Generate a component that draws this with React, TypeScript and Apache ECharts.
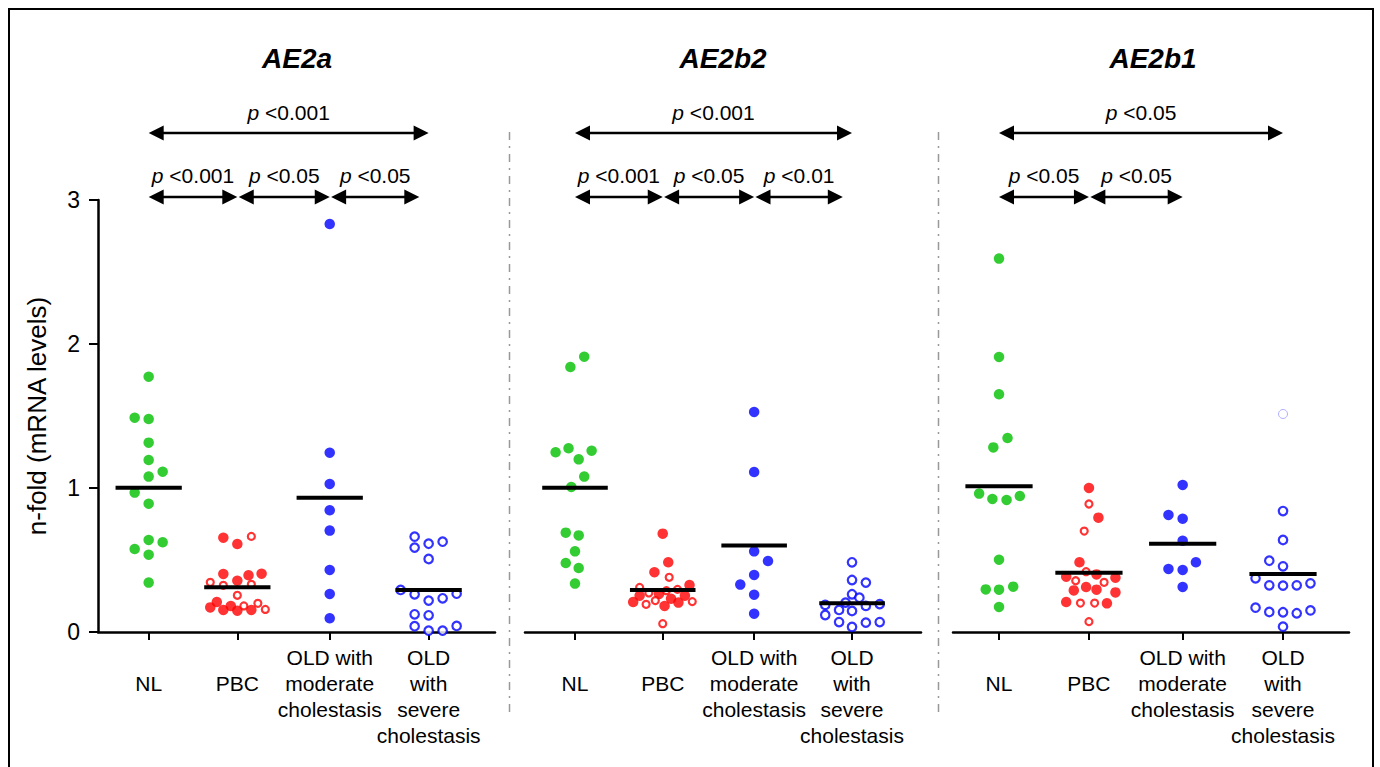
import React, { useEffect, useRef } from "react";
import * as echarts from "echarts";

const FONT = '"Liberation Sans", Arial, Helvetica, sans-serif';
const GREEN = "#00c000";
const RED = "#ff0000";
const BLUE = "#0000ff";
const FAINT = "#9c9cff";

const PANEL_TITLES = ["AE2a", "AE2b2", "AE2b1"];
const CATEGORIES = ["NL", "PBC", "OLD with\nmoderate\ncholestasis", "OLD\nwith\nsevere\ncholestasis"];
const CAT_POS = [0, 0.95, 1.94, 3];
const Y_TICKS = [0, 1, 2, 3];
const Y_NAME = "n-fold (mRNA levels)";

// [jitter (category units), value]
const AE2A_NL = [[0, 1.773], [-0.15, 1.488], [0, 1.479], [0, 1.315], [0, 1.194], [0, 1.079], [0.15, 1.113], [-0.15, 0.968], [0, 0.891], [0, 0.639], [0.15, 0.623], [-0.15, 0.576], [0, 0.537], [0, 0.343]];
const AE2A_PBC_FILLED = [[-0.15, 0.655], [0, 0.611], [-0.15, 0.403], [0.12, 0.394], [0.26, 0.405], [0, 0.356], [-0.22, 0.208], [-0.29, 0.171], [-0.15, 0.153], [-0.07, 0.181], [0, 0.148], [0.15, 0.153]];
const AE2A_PBC_OPEN = [[0.15, 0.664], [-0.29, 0.345], [-0.15, 0.324], [0.15, 0.331], [0, 0.255], [0.07, 0.181], [0.22, 0.199], [0.3, 0.157]];
const AE2A_OLD_MOD = [[0, 2.833], [0, 1.245], [0, 1.028], [0, 0.845], [0, 0.704], [0, 0.431], [0, 0.264], [0, 0.095]];
const AE2A_OLD_SEV = [[-0.15, 0.662], [0, 0.613], [0.15, 0.627], [-0.15, 0.586], [0, 0.507], [-0.3, 0.292], [-0.15, 0.262], [0, 0.218], [0.15, 0.234], [0.3, 0.266], [-0.15, 0.123], [0, 0.116], [-0.15, 0.04], [0, 0.009], [0.15, 0.009], [0.3, 0.042]];
const AE2A_MEANS = [1.002, 0.31, 0.933, 0.292];

const AE2B2_NL = [[0.1, 1.912], [-0.05, 1.84], [-0.21, 1.248], [-0.07, 1.276], [0.18, 1.259], [0.04, 1.199], [0.1, 1.079], [-0.04, 1.007], [-0.1, 0.69], [0.04, 0.671], [0, 0.56], [-0.1, 0.479], [0.04, 0.444], [0, 0.336]];
const AE2B2_PBC_FILLED = [[0, 0.683], [0.06, 0.484], [-0.09, 0.415], [0.29, 0.326], [-0.25, 0.252], [-0.32, 0.208], [-0.04, 0.264], [0.09, 0.231], [0.17, 0.204], [0.24, 0.252], [0.02, 0.181]];
const AE2B2_PBC_OPEN = [[0.07, 0.38], [-0.25, 0.31], [0.16, 0.296], [-0.15, 0.271], [0.04, 0.287], [-0.08, 0.218], [-0.18, 0.192], [0.32, 0.211], [0, 0.058]];
const AE2B2_OLD_MOD = [[0, 1.528], [0, 1.111], [0, 0.56], [0.15, 0.493], [0, 0.396], [-0.15, 0.329], [0, 0.259], [0, 0.127]];
const AE2B2_OLD_SEV = [[0, 0.484], [0, 0.361], [0.15, 0.343], [0, 0.262], [0.08, 0.238], [-0.07, 0.204], [-0.29, 0.188], [0.3, 0.194], [-0.14, 0.153], [0, 0.146], [0.15, 0.181], [-0.29, 0.118], [-0.14, 0.069], [0, 0.035], [0.15, 0.065], [0.3, 0.069]];
const AE2B2_MEANS = [1.002, 0.292, 0.6, 0.199];

const AE2B1_NL = [[0, 2.593], [0, 1.91], [0, 1.651], [0.09, 1.347], [-0.06, 1.282], [-0.21, 0.961], [-0.07, 0.924], [0.08, 0.917], [0.22, 0.944], [0, 0.502], [-0.14, 0.296], [0, 0.294], [0.15, 0.315], [0, 0.174]];
const AE2B1_PBC_FILLED = [[0, 1.0], [0.1, 0.794], [-0.1, 0.484], [-0.24, 0.384], [0.08, 0.4], [0.28, 0.377], [-0.16, 0.289], [-0.03, 0.312], [0.08, 0.294], [0.28, 0.275], [-0.24, 0.208], [0.19, 0.199]];
const AE2B1_PBC_OPEN = [[0, 0.889], [-0.05, 0.701], [-0.03, 0.419], [-0.14, 0.356], [0.16, 0.345], [-0.09, 0.201], [0.06, 0.201], [0, 0.072]];
const AE2B1_OLD_MOD = [[0, 1.021], [-0.15, 0.813], [0, 0.787], [0, 0.634], [0.14, 0.484], [-0.15, 0.438], [0, 0.431], [0, 0.313]];
const AE2B1_OLD_SEV = [[0, 0.84], [0, 0.639], [-0.145, 0.495], [0, 0.456], [-0.29, 0.373], [-0.145, 0.324], [0, 0.322], [0.145, 0.324], [0.29, 0.338], [-0.29, 0.169], [-0.145, 0.139], [0, 0.137], [0.145, 0.13], [0.29, 0.15], [0, 0.037]];
const AE2B1_OLD_SEV_FAINT = [[0, 1.514]];
const AE2B1_MEANS = [1.012, 0.412, 0.613, 0.403];

// comparisons: [fromGroup, toGroup, level (0 = lower, 1 = upper), p label]
const AE2A_TESTS: [number, number, number, string][] = [[0, 1, 0, "<0.001"], [1, 2, 0, "<0.05"], [2, 3, 0, "<0.05"], [0, 3, 1, "<0.001"]];
const AE2B2_TESTS: [number, number, number, string][] = [[0, 1, 0, "<0.001"], [1, 2, 0, "<0.05"], [2, 3, 0, "<0.01"], [0, 3, 1, "<0.001"]];
const AE2B1_TESTS: [number, number, number, string][] = [[0, 1, 0, "<0.05"], [1, 2, 0, "<0.05"], [0, 3, 1, "<0.05"]];

const PANELS = [
  { nl: AE2A_NL, pbcF: AE2A_PBC_FILLED, pbcO: AE2A_PBC_OPEN, mod: AE2A_OLD_MOD, sev: AE2A_OLD_SEV, faint: [] as number[][], means: AE2A_MEANS, tests: AE2A_TESTS },
  { nl: AE2B2_NL, pbcF: AE2B2_PBC_FILLED, pbcO: AE2B2_PBC_OPEN, mod: AE2B2_OLD_MOD, sev: AE2B2_OLD_SEV, faint: [] as number[][], means: AE2B2_MEANS, tests: AE2B2_TESTS },
  { nl: AE2B1_NL, pbcF: AE2B1_PBC_FILLED, pbcO: AE2B1_PBC_OPEN, mod: AE2B1_OLD_MOD, sev: AE2B1_OLD_SEV, faint: AE2B1_OLD_SEV_FAINT, means: AE2B1_MEANS, tests: AE2B1_TESTS },
];

// layout
const GRID_TOP = 200;
const GRID_H = 432;
const LAYOUT = [
  { left: 98, width: 397, min: -0.543, max: 3.711, title: 297 },
  { left: 525, width: 396, min: -0.5415, max: 3.747, title: 723 },
  { left: 953, width: 396, min: -0.486, max: 3.697, title: 1153 },
];
const SEPARATORS = [509.5, 938.5];
const ARROW_Y = [3.021, 3.465];
const MEAN_HALF = 0.355;
// labels split over two stacked axes so that ECharts does not drop overlapping label boxes
const LABEL_SETS = [[0, 1, 3], [2]];

function toPoints(arr: number[][], g: number) {
  return arr.map((d) => [CAT_POS[g] + d[0], d[1]]);
}

function catIndex(v: number) {
  let best = 0;
  CAT_POS.forEach((c, i) => {
    if (Math.abs(c - v) < Math.abs(CAT_POS[best] - v)) best = i;
  });
  return best;
}

function buildOption() {
  const grid: any[] = [];
  const xAxis: any[] = [];
  const yAxis: any[] = [];
  const series: any[] = [];

  LAYOUT.forEach((L, p) => {
    grid.push({ left: L.left, top: GRID_TOP, width: L.width, height: GRID_H, containLabel: false });
    LABEL_SETS.forEach((set, k) => {
      xAxis.push({
        type: "value",
        gridIndex: p,
        position: "bottom",
        min: L.min,
        max: L.max,
        splitLine: { show: false },
        axisLine: { show: k === 0, onZero: false, lineStyle: { color: "#000", width: 2.5 } },
        axisTick: { show: k === 0, customValues: CAT_POS, length: 8, lineStyle: { color: "#000", width: 2 } },
        axisLabel: {
          show: true,
          customValues: set.map((i) => CAT_POS[i]),
          showMinLabel: true,
          showMaxLabel: true,
          hideOverlap: false,
          margin: 12,
          color: "#000",
          fontFamily: FONT,
          fontSize: 21,
          lineHeight: 26,
          formatter: (v: number) => {
            const best = catIndex(v);
            const name = CATEGORIES[best];
            return best < 2 ? `{b|${name}}` : name;
          },
          rich: { b: { fontFamily: FONT, fontSize: 21, lineHeight: 78, color: "#000" } },
        },
      });
    });
    yAxis.push(
      p === 0
        ? {
            type: "value",
            gridIndex: p,
            min: 0,
            max: 3,
            interval: 1,
            splitLine: { show: false },
            axisLine: { show: true, onZero: false, lineStyle: { color: "#000", width: 2.5 } },
            axisTick: { show: true, length: 9, lineStyle: { color: "#000", width: 2 } },
            axisLabel: { margin: 18, color: "#000", fontFamily: FONT, fontSize: 23, formatter: (v: number) => (Y_TICKS.includes(v) ? String(v) : "") },
            name: Y_NAME,
            nameLocation: "middle",
            nameGap: 48,
            nameTextStyle: { color: "#000", fontFamily: FONT, fontSize: 26 },
          }
        : { type: "value", gridIndex: p, min: 0, max: 3, interval: 1, show: false }
    );

    const xi = p * LABEL_SETS.length;
    const P = PANELS[p];
    const base = { type: "scatter", xAxisIndex: xi, yAxisIndex: p, silent: true, z: 3 };
    series.push({ ...base, name: "NL", data: toPoints(P.nl, 0), symbolSize: 10.5, itemStyle: { color: GREEN } });
    series.push({ ...base, name: "PBC", data: toPoints(P.pbcF, 1), symbolSize: 10.5, itemStyle: { color: RED } });
    series.push({ ...base, name: "PBC open", data: toPoints(P.pbcO, 1), symbolSize: 7, itemStyle: { color: "#fff", borderColor: RED, borderWidth: 2.2 } });
    series.push({ ...base, name: "OLD moderate", data: toPoints(P.mod, 2), symbolSize: 10.5, itemStyle: { color: BLUE } });
    series.push({ ...base, name: "OLD severe", data: toPoints(P.sev, 3), symbolSize: 8.5, itemStyle: { color: "#fff", borderColor: BLUE, borderWidth: 2.2 } });
    if (P.faint.length) {
      series.push({ ...base, name: "OLD severe faint", data: toPoints(P.faint, 3), symbolSize: 9, itemStyle: { color: "#fff", borderColor: FAINT, borderWidth: 1 } });
    }

    // mean bars
    series.push({
      type: "custom",
      xAxisIndex: xi,
      yAxisIndex: p,
      silent: true,
      clip: false,
      z: 6,
      data: P.means.map((m, g) => [CAT_POS[g], m]),
      renderItem: (params: any, api: any) => {
        const x = api.value(0);
        const y = api.value(1);
        const a = api.coord([x - MEAN_HALF, y]);
        const b = api.coord([x + MEAN_HALF, y]);
        return { type: "line", shape: { x1: a[0], y1: a[1], x2: b[0], y2: b[1] }, style: { stroke: "#000", lineWidth: 4 } };
      },
    });

    // comparison arrows
    const tests = P.tests;
    series.push({
      type: "custom",
      xAxisIndex: xi,
      yAxisIndex: p,
      silent: true,
      clip: false,
      z: 6,
      data: tests.map((t) => {
        const from = CAT_POS[t[0]] + (t[0] > 0 ? 0.015 : 0);
        const to = CAT_POS[t[1]] - (t[2] === 0 && t[1] === 3 ? 0.1 : 0);
        return [from, to, ARROW_Y[t[2]]];
      }),
      renderItem: (params: any, api: any) => {
        const y = api.value(2);
        const a = api.coord([api.value(0), y]);
        const b = api.coord([api.value(1), y]);
        const h = 15;
        const w = 7.5;
        const label = tests[params.dataIndex][3];
        return {
          type: "group",
          children: [
            { type: "line", shape: { x1: a[0] + h - 2, y1: a[1], x2: b[0] - h + 2, y2: b[1] }, style: { stroke: "#000", lineWidth: 2.5 } },
            { type: "polygon", shape: { points: [[a[0], a[1]], [a[0] + h, a[1] - w], [a[0] + h, a[1] + w]] }, style: { fill: "#000" } },
            { type: "polygon", shape: { points: [[b[0], b[1]], [b[0] - h, b[1] - w], [b[0] - h, b[1] + w]] }, style: { fill: "#000" } },
            {
              type: "text",
              x: (a[0] + b[0]) / 2,
              y: a[1] - 21,
              style: {
                text: `{i|p} ${label}`,
                rich: { i: { fontStyle: "italic", fontFamily: FONT, fontSize: 21, fill: "#000" } },
                fontFamily: FONT,
                fontSize: 21,
                fill: "#000",
                align: "center",
                verticalAlign: "middle",
              },
            },
          ],
        };
      },
    });
  });

  const graphic: any[] = [
    { type: "rect", shape: { x: 9, y: 9, width: 1364, height: 800 }, style: { fill: "none", stroke: "#000", lineWidth: 2 }, silent: true },
    ...SEPARATORS.map((x) => ({
      type: "line",
      shape: { x1: x, y1: 132, x2: x, y2: 718 },
      style: { stroke: "#999", lineWidth: 1.5, lineDash: [8, 6, 2, 6] },
      silent: true,
    })),
    ...LAYOUT.map((L, p) => ({
      type: "text",
      x: L.title,
      y: 58,
      style: { text: PANEL_TITLES[p], font: `italic bold 28px ${FONT}`, fill: "#000", align: "center", verticalAlign: "middle" },
      silent: true,
    })),
  ];

  return { animation: false, backgroundColor: "#fff", grid, xAxis, yAxis, series, graphic };
}

export default function App() {
  const ref = useRef<HTMLDivElement>(null);
  useEffect(() => {
    if (!ref.current) return;
    const chart = echarts.init(ref.current, null, { renderer: "svg" });
    chart.setOption(buildOption() as any);
    return () => chart.dispose();
  }, []);
  return <div ref={ref} style={{ position: "absolute", left: 0, top: 0, width: 1380, height: 767 }} />;
}
